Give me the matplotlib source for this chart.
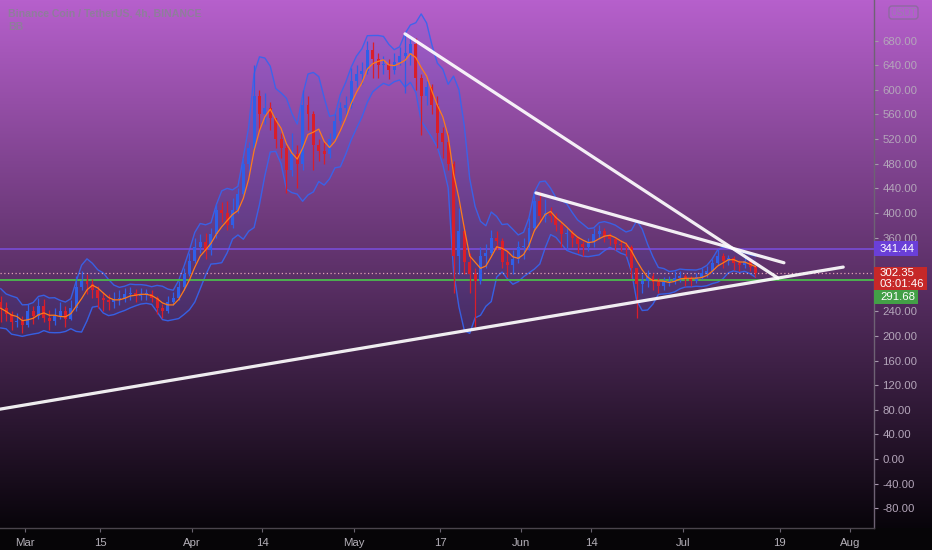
import matplotlib
matplotlib.use('Agg')
import matplotlib.pyplot as plt
import matplotlib.dates as mdates
from matplotlib.patches import Rectangle, FancyBboxPatch
from matplotlib.transforms import IdentityTransform
import numpy as np
import pandas as pd

# ---------------- data ----------------
start_date = '2021-02-24'
first_open = 255
close = [245, 235, 222, 225, 218, 240, 232, 248, 230, 225,
         232, 240, 228, 245, 280, 290, 285, 275, 262, 258,
         255, 260, 262, 268, 270, 265, 268, 268, 262, 245,
         240, 255, 262, 280, 300, 322, 345, 352, 340, 365,
         405, 400, 380, 405, 430, 480, 505, 590, 560, 570,
         555, 520, 505, 470, 495, 480, 575, 560, 510, 500,
         495, 520, 550, 570, 575, 615, 625, 630, 665, 650,
         640, 640, 632, 645, 655, 660, 675, 620, 590, 605,
         575, 530, 515, 480, 330, 370, 320, 300, 290, 330,
         335, 360, 355, 320, 315, 325, 345, 345, 375, 420,
         395, 400, 395, 380, 365, 368, 360, 350, 345, 352,
         365, 370, 362, 358, 350, 348, 345, 310, 285, 290,
         298, 288, 282, 288, 290, 295, 298, 292, 290, 296,
         302, 305, 318, 330, 322, 326, 318, 315, 322, 312,
         302.35]
high = [265, 255, 240, 238, 232, 252, 248, 262, 260, 242,
        245, 255, 248, 258, 298, 305, 300, 292, 282, 272,
        268, 272, 275, 278, 280, 276, 278, 276, 274, 265,
        252, 265, 272, 290, 310, 335, 360, 365, 368, 375,
        415, 418, 420, 425, 440, 490, 515, 640, 600, 595,
        580, 555, 530, 510, 530, 510, 600, 590, 565, 520,
        515, 530, 560, 580, 590, 635, 640, 645, 680, 678,
        660, 655, 650, 660, 670, 692, 688, 685, 625, 615,
        610, 590, 540, 530, 485, 408, 380, 335, 310, 345,
        350, 372, 370, 360, 340, 340, 355, 360, 392, 430,
        434, 422, 410, 400, 385, 375, 372, 362, 355, 360,
        375, 380, 375, 368, 360, 356, 352, 348, 310, 300,
        308, 302, 295, 296, 298, 305, 305, 300, 298, 302,
        310, 314, 325, 342, 335, 332, 330, 324, 328, 325,
        315]
low = [222, 225, 210, 214, 205, 215, 220, 228, 222, 210,
       218, 228, 215, 226, 240, 275, 268, 262, 245, 240,
       242, 245, 250, 255, 258, 255, 258, 258, 255, 235,
       230, 238, 250, 258, 275, 298, 318, 335, 325, 332,
       360, 385, 372, 375, 400, 425, 465, 500, 535, 545,
       535, 505, 490, 433, 460, 440, 470, 535, 470, 485,
       480, 490, 515, 545, 555, 570, 605, 610, 625, 620,
       620, 625, 618, 625, 640, 595, 640, 600, 527, 575,
       560, 505, 490, 470, 270, 300, 300, 270, 215, 285,
       310, 330, 340, 310, 296, 300, 318, 325, 340, 370,
       385, 385, 385, 370, 345, 340, 345, 335, 330, 338,
       345, 358, 352, 348, 340, 338, 330, 295, 230, 270,
       280, 275, 270, 275, 282, 285, 288, 282, 282, 286,
       292, 296, 302, 315, 310, 315, 308, 306, 310, 305,
       296]

bb_length = 4
bb_mult = 2.0

last_price = 302.35
countdown = '03:01:46'
level_purple = 341.44
level_green = 291.68

trend_starts = [('2021-02-24 00:00', 80.6), ('2021-05-10 12:00', 691.0), ('2021-06-03 19:00', 432.5)]
trend_ends = [('2021-07-30 19:00', 312.0), ('2021-07-18 17:00', 294.0), ('2021-07-19 19:00', 319.0)]

xtick_dates = ['2021-03-01', '2021-03-15', '2021-04-01', '2021-04-14', '2021-05-01', '2021-05-17',
               '2021-06-01', '2021-06-14', '2021-07-01', '2021-07-19', '2021-08-01']
xtick_labels = ['Mar', '15', 'Apr', '14', 'May', '17', 'Jun', '14', 'Jul', '19', 'Aug']
ytick_values = list(range(-80, 681, 40))
ytick_hidden = [280, 320]

title_text = 'Binance Coin / TetherUS, 4h, BINANCE'
indicator_text = 'BB'
currency_text = 'USDT'

# ---------------- figure ----------------
W, H = 932, 550
fig = plt.figure(figsize=(W / 100, H / 100), dpi=100)
plt.rcParams['font.family'] = ['Liberation Sans', 'DejaVu Sans']

# background gradient
bottom_px = 528
bg = fig.add_axes([0, 0, 1, 1], zorder=-10)
rows = np.arange(H)
top_c = np.array([182, 96, 204]) / 255
bot_c = np.array([8, 4, 10]) / 255
t = np.clip(rows / bottom_px, 0, 1)[:, None]
img = top_c * (1 - t) + bot_c * t
img[rows >= bottom_px] = np.array([6, 5, 7]) / 255
bg.imshow(img[:, None, :], aspect='auto', extent=[0, 1, 0, 1], origin='upper')
bg.set_axis_off()

ax = fig.add_axes([0, (H - bottom_px) / H, 874 / W, bottom_px / H])
ax.patch.set_alpha(0)

dates = pd.date_range(start_date, periods=len(close), freq='D')
xc = mdates.date2num(dates) + 0.5
c = np.array(close, dtype=float)
o = np.concatenate([[first_open], c[:-1]])
h = np.array(high, dtype=float)
l = np.array(low, dtype=float)
up = c >= o
up_col = '#2f5fe8'
dn_col = '#d91e2a'
cols = np.where(up, up_col, dn_col)

# Bollinger bands: basis = SMA of closes, deviation pooled over the
# intraday prices (open/high/low/close) of the window, as a stand-in for
# the finer 4h bars of the original.
s = pd.Series(c)
basis = s.rolling(bb_length, min_periods=1).mean()
sd = []
for i in range(len(c)):
    j = max(0, i - bb_length + 1)
    pool = np.concatenate([o[j:i + 1], h[j:i + 1], l[j:i + 1], c[j:i + 1]])
    sd.append(pool.std())
sd = np.array(sd)
upper = basis + bb_mult * sd
lower = basis - bb_mult * sd
ax.fill_between(xc, lower, upper, color='#2962ff', alpha=0.10, lw=0, zorder=1)
ax.plot(xc, upper, color='#3565f0', lw=1.0, alpha=0.9, zorder=2)
ax.plot(xc, lower, color='#3565f0', lw=1.0, alpha=0.9, zorder=2)

# candles
ax.vlines(xc, l, h, colors=cols, lw=0.9, zorder=3)
body = np.where(np.abs(c - o) < 1.5, 1.5, c - o)
ax.bar(xc, body, bottom=o, width=0.55, color=cols, lw=0, zorder=3)
ax.plot(xc, basis, color='#ff7a1a', lw=0.9, zorder=4)

# horizontal levels
ax.axhline(level_purple, color='#7a4fe0', lw=1.1, zorder=2)
ax.axhline(level_green, color='#4caf50', lw=1.4, zorder=2)
ax.axhline(last_price, color='#e0a0b4', lw=0.9, ls=(0, (1, 2)), zorder=2)

# trend lines
for (d0, p0), (d1, p1) in zip(trend_starts, trend_ends):
    ax.plot(mdates.datestr2num([d0, d1]), [p0, p1], color='white', lw=2.3, alpha=0.92,
            solid_capstyle='round', zorder=6)

base = mdates.date2num(pd.Timestamp(start_date))
ax.set_xlim(base + 0.362, base + 162.5)
ax.set_ylim(-112, 746)

# axes styling
for sp in ['top', 'left']:
    ax.spines[sp].set_visible(False)
ax.spines['right'].set_color('#6e6274')
ax.spines['bottom'].set_color('#4a444c')
ax.spines['right'].set_linewidth(1)
ax.spines['bottom'].set_linewidth(1)
ax.yaxis.tick_right()
yt = [v for v in ytick_values if v not in ytick_hidden]
ax.set_yticks(yt)
ax.set_yticklabels([f'{v:.2f}' for v in yt])
ax.tick_params(axis='y', colors='#a898ae', labelcolor='#b4a6ba', labelsize=8.2, length=3, pad=3)
ax.set_xticks(mdates.datestr2num(xtick_dates))
ax.set_xticklabels(xtick_labels)
ax.tick_params(axis='x', colors='#6a6470', labelcolor='#b4b0b8', labelsize=8.2, length=3, pad=4)

# ---------------- price labels (pixel space) ----------------
fig.canvas.draw()


def py(price):
    return ax.transData.transform((0, price))[1]


idt = IdentityTransform()


def label_box(yc, hgt, wid, fc, lines, line_gap=11):
    fig.patches.append(Rectangle((874, yc - hgt / 2), wid, hgt, transform=idt, fc=fc, ec='none',
                                 zorder=20))
    n = len(lines)
    for i, txt in enumerate(lines):
        ty = yc + (n - 1) * line_gap / 2 - i * line_gap
        fig.text(880, ty, txt, transform=idt, color='white', fontsize=8.2, ha='left',
                 va='center', zorder=21)


yp = py(level_purple)
label_box(yp, 15, 44, '#6a3fd8', [f'{level_purple:.2f}'])
yr = py(last_price)
fig.patches.append(Rectangle((874, yr - 17), 53, 23, transform=idt, fc='#c62828', ec='none', zorder=20))
fig.text(880, yr, f'{last_price:.2f}', transform=idt, color='white', fontsize=8.2, va='center', zorder=21)
fig.text(880, yr - 11, countdown, transform=idt, color='white', fontsize=8.2, va='center', zorder=21)
yg = py(level_green) - 17
label_box(yg, 14, 44, '#43a047', [f'{level_green:.2f}'])

# currency box
fig.patches.append(FancyBboxPatch((889, H - 19), 29, 13, boxstyle='round,pad=0,rounding_size=3',
                                  transform=idt, fc=(0.7, 0.37, 0.8), ec='#8e6aa0', lw=1, zorder=20))
fig.text(903.5, H - 12.5, currency_text, transform=idt, color='#9c7cae', fontsize=7,
         ha='center', va='center', zorder=21)

# title
fig.text(8, H - 13, title_text, transform=idt, color='#8f7d9c', fontsize=7.6,
         fontweight='bold', ha='left', va='center')
fig.text(8, H - 27, indicator_text, transform=idt, color='#8f7d9c', fontsize=7.6,
         fontweight='bold', ha='left', va='center')

fig.savefig('out.png', dpi=100)
